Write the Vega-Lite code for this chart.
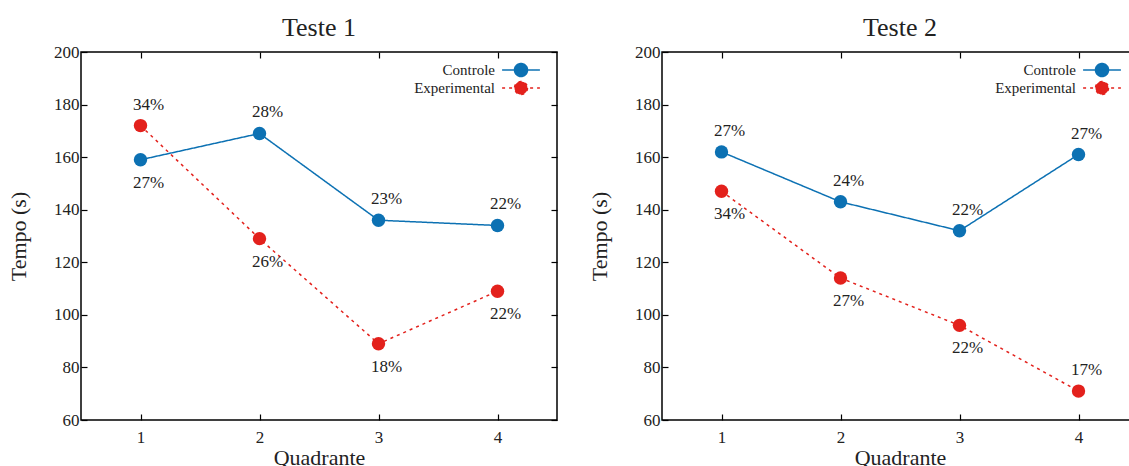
{
  "$schema": "https://vega.github.io/schema/vega-lite/v6.json",
  "padding": {"left": 6, "top": 14, "right": 0, "bottom": 0},
  "config": {
    "font": "Liberation Serif",
    "view": {"stroke": "black", "strokeWidth": 1.5},
    "title": {"font": "Liberation Serif", "fontSize": 26, "fontWeight": "normal", "color": "#222", "offset": 2},
    "axis": {"grid": false, "domain": false, "tickColor": "black", "tickWidth": 1.2, "tickSize": -6, "labelFont": "Liberation Serif", "titleFont": "Liberation Serif", "labelFontSize": 17, "labelColor": "#222", "titleFontSize": 22, "titleFontWeight": "normal", "titleColor": "#222", "labelPadding": 8},
    "axisX": {"labelPadding": 15, "titlePadding": 2},
    "axisY": {"titlePadding": 23},
    "legend": {"labelFont": "Liberation Serif", "labelFontSize": 15, "labelColor": "#222"},
    "text": {"font": "Liberation Serif"}
  },
  "data": {"values": [
    {"teste": "Teste 1", "quadrante": 1, "grupo": "Controle", "tempo": 159, "pct": "27%", "lado": "abaixo"},
    {"teste": "Teste 1", "quadrante": 2, "grupo": "Controle", "tempo": 169, "pct": "28%", "lado": "acima"},
    {"teste": "Teste 1", "quadrante": 3, "grupo": "Controle", "tempo": 136, "pct": "23%", "lado": "acima"},
    {"teste": "Teste 1", "quadrante": 4, "grupo": "Controle", "tempo": 134, "pct": "22%", "lado": "acima"},
    {"teste": "Teste 1", "quadrante": 1, "grupo": "Experimental", "tempo": 172, "pct": "34%", "lado": "acima"},
    {"teste": "Teste 1", "quadrante": 2, "grupo": "Experimental", "tempo": 129, "pct": "26%", "lado": "abaixo"},
    {"teste": "Teste 1", "quadrante": 3, "grupo": "Experimental", "tempo": 89, "pct": "18%", "lado": "abaixo"},
    {"teste": "Teste 1", "quadrante": 4, "grupo": "Experimental", "tempo": 109, "pct": "22%", "lado": "abaixo"},
    {"teste": "Teste 2", "quadrante": 1, "grupo": "Controle", "tempo": 162, "pct": "27%", "lado": "acima"},
    {"teste": "Teste 2", "quadrante": 2, "grupo": "Controle", "tempo": 143, "pct": "24%", "lado": "acima"},
    {"teste": "Teste 2", "quadrante": 3, "grupo": "Controle", "tempo": 132, "pct": "22%", "lado": "acima"},
    {"teste": "Teste 2", "quadrante": 4, "grupo": "Controle", "tempo": 161, "pct": "27%", "lado": "acima"},
    {"teste": "Teste 2", "quadrante": 1, "grupo": "Experimental", "tempo": 147, "pct": "34%", "lado": "abaixo"},
    {"teste": "Teste 2", "quadrante": 2, "grupo": "Experimental", "tempo": 114, "pct": "27%", "lado": "abaixo"},
    {"teste": "Teste 2", "quadrante": 3, "grupo": "Experimental", "tempo": 96, "pct": "22%", "lado": "abaixo"},
    {"teste": "Teste 2", "quadrante": 4, "grupo": "Experimental", "tempo": 71, "pct": "17%", "lado": "acima"}
  ]},
  "resolve": {"legend": {"color": "independent", "strokeDash": "independent"}},
  "spacing": 28,
  "hconcat": [
    {
      "title": "Teste 1",
      "width": 476, "height": 368,
      "transform": [{"filter": "datum.teste === 'Teste 1'"}],
      "encoding": {
        "x": {"field": "quadrante", "type": "quantitative", "scale": {"domain": [0.5, 4.5], "nice": false}},
        "y": {"field": "tempo", "type": "quantitative", "scale": {"domain": [60, 200], "nice": false}},
        "color": {"field": "grupo", "type": "nominal", "scale": {"domain": ["Controle", "Experimental"], "range": ["#0c71b3", "#e3211c"]},
          "legend": {"title": null, "orient": "none", "legendX": 432, "legendY": 10, "padding": 0, "rowPadding": -6, "labelAlign": "right", "labelOffset": -34, "symbolType": "M-2.7,0H2.7M0.93,0A0.93,0.93,0,1,1,-0.93,0A0.93,0.93,0,1,1,0.93,0Z", "symbolSize": 196, "symbolStrokeWidth": 1.5}}
      },
      "resolve": {"axis": {"x": "independent", "y": "independent"}},
      "layer": [
        {
          "mark": {"type": "line", "strokeWidth": 1.5},
          "encoding": {
            "x": {"field": "quadrante", "type": "quantitative", "axis": {"values": [1, 2, 3, 4], "format": "d", "title": "Quadrante"}},
            "y": {"field": "tempo", "type": "quantitative", "axis": {"values": [60, 80, 100, 120, 140, 160, 180, 200], "title": "Tempo (s)"}},
            "strokeDash": {"field": "grupo", "type": "nominal", "scale": {"domain": ["Controle", "Experimental"], "range": [[1, 0], [3, 4]]},
              "legend": {"title": null, "orient": "none", "legendX": 432, "legendY": 10, "padding": 0, "rowPadding": -6, "labelAlign": "right", "labelOffset": -34, "symbolType": "M-2.7,0H2.7M0.93,0A0.93,0.93,0,1,1,-0.93,0A0.93,0.93,0,1,1,0.93,0Z", "symbolSize": 196, "symbolStrokeWidth": 1.5}}
          }
        },
        {
          "mark": {"type": "circle", "size": 180, "opacity": 1},
          "encoding": {
            "x": {"field": "quadrante", "type": "quantitative", "axis": {"orient": "top", "values": [1, 2, 3, 4], "labels": false, "title": null}},
            "y": {"field": "tempo", "type": "quantitative", "axis": {"orient": "right", "values": [60, 80, 100, 120, 140, 160, 180, 200], "labels": false, "title": null}}
          }
        },
        {
          "transform": [{"filter": "datum.lado === 'acima'"}],
          "mark": {"type": "text", "dy": -21, "dx": 8, "fontSize": 17, "font": "Liberation Serif", "color": "#222"},
          "encoding": {
            "x": {"field": "quadrante", "type": "quantitative", "axis": null},
            "y": {"field": "tempo", "type": "quantitative", "axis": null},
            "text": {"field": "pct"},
            "color": {"value": "#222"}
          }
        },
        {
          "transform": [{"filter": "datum.lado === 'abaixo'"}],
          "mark": {"type": "text", "dy": 23, "dx": 8, "fontSize": 17, "font": "Liberation Serif", "color": "#222"},
          "encoding": {
            "x": {"field": "quadrante", "type": "quantitative", "axis": null},
            "y": {"field": "tempo", "type": "quantitative", "axis": null},
            "text": {"field": "pct"},
            "color": {"value": "#222"}
          }
        }
      ]
    },
    {
      "title": "Teste 2",
      "width": 476, "height": 368,
      "transform": [{"filter": "datum.teste === 'Teste 2'"}],
      "encoding": {
        "x": {"field": "quadrante", "type": "quantitative", "scale": {"domain": [0.5, 4.5], "nice": false}},
        "y": {"field": "tempo", "type": "quantitative", "scale": {"domain": [60, 200], "nice": false}},
        "color": {"field": "grupo", "type": "nominal", "scale": {"domain": ["Controle", "Experimental"], "range": ["#0c71b3", "#e3211c"]},
          "legend": {"title": null, "orient": "none", "legendX": 432, "legendY": 10, "padding": 0, "rowPadding": -6, "labelAlign": "right", "labelOffset": -34, "symbolType": "M-2.7,0H2.7M0.93,0A0.93,0.93,0,1,1,-0.93,0A0.93,0.93,0,1,1,0.93,0Z", "symbolSize": 196, "symbolStrokeWidth": 1.5}}
      },
      "resolve": {"axis": {"x": "independent", "y": "independent"}},
      "layer": [
        {
          "mark": {"type": "line", "strokeWidth": 1.5},
          "encoding": {
            "x": {"field": "quadrante", "type": "quantitative", "axis": {"values": [1, 2, 3, 4], "format": "d", "title": "Quadrante"}},
            "y": {"field": "tempo", "type": "quantitative", "axis": {"values": [60, 80, 100, 120, 140, 160, 180, 200], "title": "Tempo (s)"}},
            "strokeDash": {"field": "grupo", "type": "nominal", "scale": {"domain": ["Controle", "Experimental"], "range": [[1, 0], [3, 4]]},
              "legend": {"title": null, "orient": "none", "legendX": 432, "legendY": 10, "padding": 0, "rowPadding": -6, "labelAlign": "right", "labelOffset": -34, "symbolType": "M-2.7,0H2.7M0.93,0A0.93,0.93,0,1,1,-0.93,0A0.93,0.93,0,1,1,0.93,0Z", "symbolSize": 196, "symbolStrokeWidth": 1.5}}
          }
        },
        {
          "mark": {"type": "circle", "size": 180, "opacity": 1},
          "encoding": {
            "x": {"field": "quadrante", "type": "quantitative", "axis": {"orient": "top", "values": [1, 2, 3, 4], "labels": false, "title": null}},
            "y": {"field": "tempo", "type": "quantitative", "axis": {"orient": "right", "values": [60, 80, 100, 120, 140, 160, 180, 200], "labels": false, "title": null}}
          }
        },
        {
          "transform": [{"filter": "datum.lado === 'acima'"}],
          "mark": {"type": "text", "dy": -21, "dx": 8, "fontSize": 17, "font": "Liberation Serif", "color": "#222"},
          "encoding": {
            "x": {"field": "quadrante", "type": "quantitative", "axis": null},
            "y": {"field": "tempo", "type": "quantitative", "axis": null},
            "text": {"field": "pct"},
            "color": {"value": "#222"}
          }
        },
        {
          "transform": [{"filter": "datum.lado === 'abaixo'"}],
          "mark": {"type": "text", "dy": 23, "dx": 8, "fontSize": 17, "font": "Liberation Serif", "color": "#222"},
          "encoding": {
            "x": {"field": "quadrante", "type": "quantitative", "axis": null},
            "y": {"field": "tempo", "type": "quantitative", "axis": null},
            "text": {"field": "pct"},
            "color": {"value": "#222"}
          }
        }
      ]
    }
  ]
}
